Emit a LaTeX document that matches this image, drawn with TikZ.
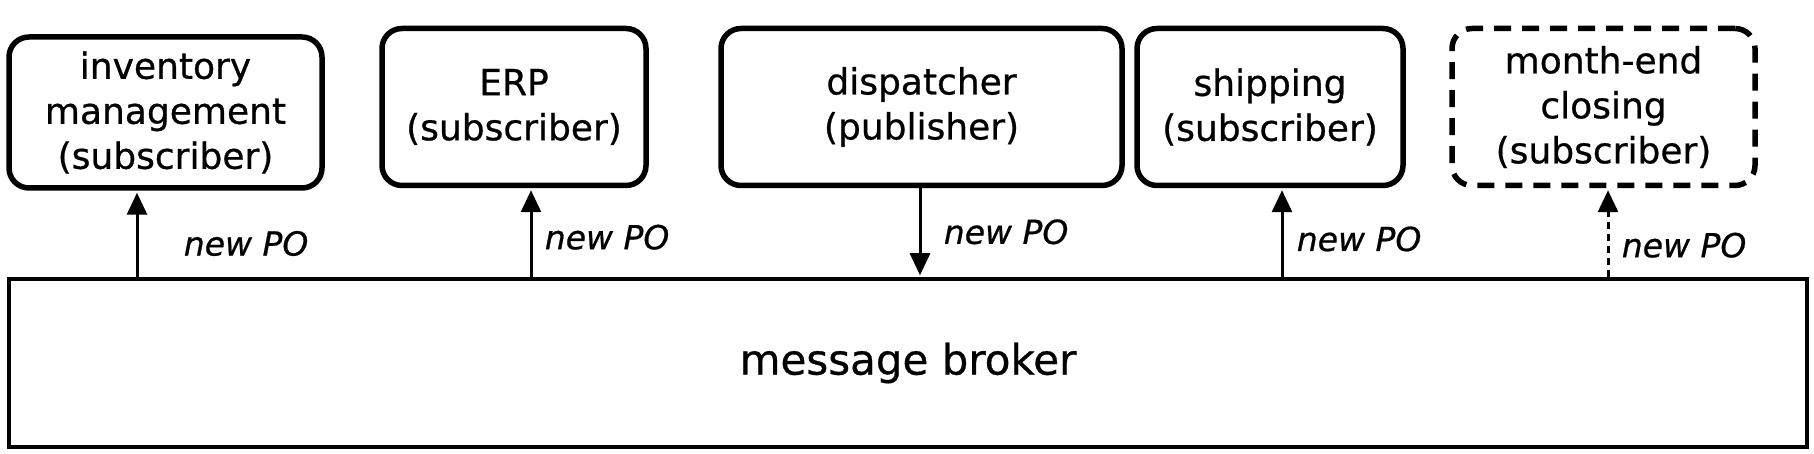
\documentclass[tikz,border=0pt]{standalone}
\usepackage{fontspec}
\setmainfont{DejaVu Sans}[FakeBold=0.7]
\usetikzlibrary{positioning,arrows.meta}

\begin{document}
\begin{tikzpicture}[x=1pt,y=1pt,
	app/.style={draw, line width=5.5pt, rounded corners=20pt, align=center, inner sep=0pt,
		font=\fontsize{36}{45}\selectfont},
	later/.style={app, dash pattern=on 17pt off 11pt},
	flow/.style={line width=3pt, -{Triangle[length=22pt,width=20pt]}, shorten >=2pt},
	lbl/.style={font=\fontsize{33}{36}\selectfont\itshape, anchor=west}]
	\useasboundingbox (0,0) rectangle (1814,454);

	% the broker
	\node[draw, line width=3.5pt, minimum width=1798pt, minimum height=168pt,
		font=\fontsize{42}{46}\selectfont] (broker) at (908,91) {message broker};

	% the applications
	\node[app, minimum width=313pt, minimum height=151pt] (inv) at (165.5,341.5) {inventory\\management\\(subscriber)};
	\node[app, minimum width=264pt, minimum height=157pt] (erp) at (514,347) {ERP\\(subscriber)};
	\node[app, minimum width=401pt, minimum height=157pt] (disp) at (921.5,347) {dispatcher\\(publisher)};
	\node[app, minimum width=266pt, minimum height=157pt] (ship) at (1270,347) {shipping\\(subscriber)};
	\node[later, minimum width=303pt, minimum height=157pt] (month) at (1603.5,347) {month-end\\closing\\(subscriber)};

	% where the messages go
	\coordinate (invin) at ([xshift=-28.5pt]inv.south);
	\coordinate (erpin) at ([xshift=17pt]erp.south);
	\coordinate (dispout) at ([xshift=-1.5pt]disp.south);
	\coordinate (shipin) at ([xshift=12pt]ship.south);
	\coordinate (monthin) at ([xshift=4.5pt]month.south);

	\draw[flow] (invin |- broker.north) -- (invin) node[lbl, pos=.39, xshift=42pt] {new PO};
	\draw[flow] (erpin |- broker.north) -- (erpin) node[lbl, pos=.45, xshift=9pt] {new PO};
	\draw[flow] (dispout) -- (dispout |- broker.north) node[lbl, pos=.49, xshift=19pt] {new PO};
	\draw[flow] (shipin |- broker.north) -- (shipin) node[lbl, pos=.43, xshift=10pt] {new PO};
	\draw[flow, dash pattern=on 7pt off 5pt] (monthin |- broker.north) -- (monthin) node[lbl, pos=.36, xshift=9pt] {new PO};
\end{tikzpicture}
\end{document}
